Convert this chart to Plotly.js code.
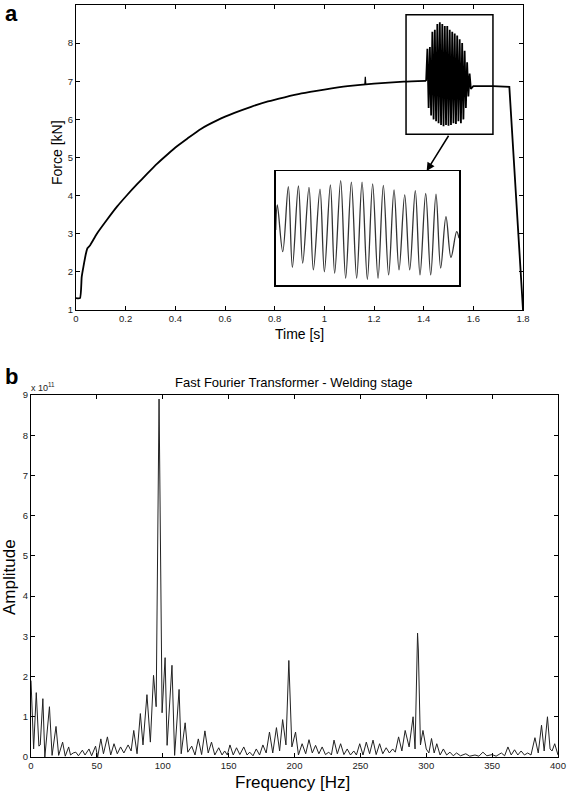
<!DOCTYPE html>
<html><head><meta charset="utf-8">
<script src="https://cdn.plot.ly/plotly-3.0.1.min.js"></script>
<style>html,body{margin:0;padding:0;background:#fff}#chart{width:567px;height:793px}</style>
</head><body><div id="chart"></div>
<script>
// ---- Panel a: force vs time ----
const riseTime  = [0, 0.016, 0.023, 0.03, 0.04, 0.046, 0.057, 0.084, 0.124, 0.165, 0.205, 0.246, 0.286, 0.327, 0.368, 0.408, 0.449, 0.503, 0.57, 0.638, 0.705, 0.773, 0.84, 0.908, 1.0, 1.094, 1.2, 1.32, 1.41];
const riseForce = [1.31, 1.31, 1.87, 2.14, 2.48, 2.62, 2.7, 3.0, 3.36, 3.71, 4.01, 4.3, 4.57, 4.84, 5.08, 5.3, 5.5, 5.75, 5.98, 6.17, 6.33, 6.47, 6.58, 6.68, 6.78, 6.87, 6.94, 6.99, 7.01];
const spikeTime  = [1.163, 1.165, 1.167];
const spikeForce = [6.91, 7.12, 6.91];
const burstTime  = [1.41, 1.415, 1.420, 1.425, 1.430, 1.435, 1.440, 1.445, 1.450, 1.455, 1.460, 1.465, 1.470, 1.475, 1.480, 1.485, 1.490, 1.495, 1.500, 1.505, 1.510, 1.515, 1.520, 1.525, 1.530, 1.535, 1.540, 1.545, 1.550, 1.555, 1.560, 1.565, 1.570, 1.575, 1.580, 1.585, 1.590];
const burstForce = [7.01, 7.85, 6.3, 7.9, 6.1, 8.3, 6.0, 8.35, 5.95, 8.5, 5.9, 8.55, 5.85, 8.5, 5.82, 8.45, 5.85, 8.45, 5.83, 8.35, 5.85, 8.3, 5.9, 8.25, 5.88, 8.2, 5.95, 8.1, 5.9, 8.0, 6.0, 7.8, 6.3, 7.5, 6.6, 7.2, 6.8];
const dropTime  = [1.6, 1.68, 1.745, 1.8];
const dropForce = [6.87, 6.87, 6.85, 1.0];

// ---- Inset: zoom of the welding oscillation ----
const insetTime  = [1.4200, 1.4216, 1.4269, 1.4324, 1.4364, 1.4423, 1.4465, 1.4527, 1.4570, 1.4635, 1.4678, 1.4737, 1.4779, 1.4838, 1.4887, 1.4943, 1.4995, 1.5048, 1.5100, 1.5152, 1.5205, 1.5257, 1.5309, 1.5362, 1.5411, 1.5467, 1.5516, 1.5571, 1.5617, 1.5673, 1.5722, 1.5774, 1.5820, 1.5872, 1.5921, 1.5977, 1.6000];
const insetForce = [7.05, 7.75, 6.44, 8.26, 6.00, 8.28, 6.12, 8.24, 5.93, 8.19, 5.88, 8.31, 5.84, 8.43, 5.70, 8.39, 5.70, 8.39, 5.67, 8.34, 5.70, 8.30, 5.79, 8.17, 5.93, 8.03, 5.93, 8.15, 5.79, 8.07, 5.79, 8.05, 5.98, 7.42, 6.28, 7.00, 6.82];

// ---- Panel b: FFT (amplitude in units of 1e11) ----
const fftFreq = [0, 1, 2, 4, 6, 7, 9, 10.5, 14, 16, 19, 21, 24, 26, 28.6, 30, 32, 34, 36, 39, 41, 44, 46, 49, 50.6, 53, 55, 58, 60.5, 63, 65.5, 68, 70.5, 73.7, 76, 78, 80.5, 83, 85, 88, 90.6, 93, 95, 97.2, 97.7, 99.5, 101.8, 103.3, 107, 109, 112.4, 114, 117, 119, 122, 124.5, 127, 129.5, 132, 134.5, 137, 139.5, 142.5, 145, 147, 149, 151, 153.5, 156, 158.5, 161.5, 164, 166, 168.5, 171, 173.5, 176, 178.5, 181, 183.5, 186.3, 188.7, 191, 193.5, 195.7, 196.2, 198, 200.8, 203, 205.8, 208.5, 211, 213.5, 216, 218.5, 221, 223.5, 226, 228, 230, 232.5, 235, 237.5, 240, 242.5, 245, 247, 249.5, 252, 254.5, 257, 259.6, 262, 264.6, 267, 269.6, 272, 274.5, 276.5, 279, 281.5, 284, 287, 290, 291.5, 293.4, 294, 295.6, 297.5, 300, 302, 304, 306, 308, 310.5, 313, 315.5, 318, 320.5, 323, 326, 330, 333, 337, 340, 343, 346, 350, 353, 357, 359.5, 362, 364.5, 367, 369.5, 372, 374.5, 377, 379.5, 382.5, 385, 387.5, 389.5, 392, 394, 395.5, 397.5, 400];
const fftAmp  = [1.9, 1.0, 0.2, 1.6, 0.27, 0.3, 1.45, 0.0, 1.25, 0.04, 0.76, 0.04, 0.37, 0.02, 0.25, 0.05, 0.1, 0.12, 0.03, 0.17, 0.05, 0.2, 0.03, 0.27, 0.0, 0.45, 0.08, 0.5, 0.05, 0.33, 0.08, 0.25, 0.1, 0.3, 0.15, 0.66, 0.08, 1.08, 0.3, 1.55, 0.37, 2.03, 1.25, 8.9, 7.39, 1.1, 2.47, 0.29, 2.28, 0.04, 1.68, 0.08, 0.85, 0.12, 0.27, 0.05, 0.45, 0.06, 0.65, 0.1, 0.37, 0.05, 0.23, 0.05, 0.15, 0.05, 0.3, 0.05, 0.23, 0.06, 0.25, 0.05, 0.12, 0.03, 0.2, 0.05, 0.3, 0.1, 0.62, 0.1, 0.73, 0.15, 0.93, 0.3, 2.4, 2.0, 0.25, 0.62, 0.05, 0.33, 0.08, 0.43, 0.1, 0.29, 0.08, 0.25, 0.06, 0.12, 0.05, 0.42, 0.08, 0.33, 0.06, 0.2, 0.05, 0.15, 0.05, 0.33, 0.05, 0.37, 0.08, 0.42, 0.06, 0.33, 0.08, 0.23, 0.1, 0.2, 0.12, 0.5, 0.15, 0.66, 0.25, 1.0, 0.2, 3.08, 2.66, 0.3, 0.66, 0.2, 0.1, 0.46, 0.1, 0.33, 0.05, 0.2, 0.05, 0.12, 0.03, 0.1, 0.03, 0.08, 0.02, 0.05, 0.02, 0.12, 0.03, 0.06, 0.02, 0.1, 0.03, 0.25, 0.05, 0.18, 0.05, 0.15, 0.05, 0.1, 0.05, 0.48, 0.1, 0.79, 0.15, 1.0, 0.2, 0.15, 0.33, 0.05];

const W = 567, H = 793;
const px = v => v / W;
const py = v => 1 - v / H;

const FONT = 'Liberation Sans, Arial, sans-serif';
const tickFont = {family: FONT, size: 9.5, color: '#222'};

const baseAxis = {
  showgrid: false, zeroline: false, showline: true, linecolor: '#000', linewidth: 1,
  mirror: 'ticks', ticks: 'inside', ticklen: 4, tickcolor: '#000', tickwidth: 1,
  tickfont: tickFont
};

const mainLine = {color: '#000', width: 1.8};
const traces = [
  {x: riseTime, y: riseForce, xaxis: 'x', yaxis: 'y', type: 'scatter', mode: 'lines',
   line: Object.assign({shape: 'spline', smoothing: 0.5}, mainLine), hoverinfo: 'skip'},
  {x: spikeTime, y: spikeForce, xaxis: 'x', yaxis: 'y', type: 'scatter', mode: 'lines',
   line: {color: '#000', width: 1.2}, hoverinfo: 'skip'},
  {x: burstTime.concat(dropTime), y: burstForce.concat(dropForce), xaxis: 'x', yaxis: 'y', type: 'scatter', mode: 'lines',
   line: mainLine, hoverinfo: 'skip'},
  {x: insetTime, y: insetForce, xaxis: 'x2', yaxis: 'y2', type: 'scatter', mode: 'lines',
   line: {color: '#333', width: 1.3, shape: 'spline', smoothing: 1}, hoverinfo: 'skip'},
  {x: fftFreq, y: fftAmp, xaxis: 'x3', yaxis: 'y3', type: 'scatter', mode: 'lines',
   line: {color: '#222', width: 1}, hoverinfo: 'skip'}
];

const layout = {
  width: W, height: H,
  margin: {l: 0, r: 0, t: 0, b: 0},
  paper_bgcolor: '#fff', plot_bgcolor: '#fff',
  showlegend: false,
  font: {family: FONT, color: '#000'},
  xaxis: Object.assign({}, baseAxis, {domain: [px(76), px(523)], anchor: 'y', range: [0, 1.8], dtick: 0.2, tick0: 0}),
  yaxis: Object.assign({}, baseAxis, {domain: [py(310), py(5)], anchor: 'x', range: [1, 9], dtick: 1, tick0: 1}),
  xaxis2: {domain: [px(275.7), px(459)], anchor: 'y2', range: [1.42, 1.60], showgrid: false, zeroline: false,
           showline: true, linecolor: '#000', linewidth: 1.5, mirror: true, ticks: '', showticklabels: false},
  yaxis2: {domain: [py(285.3), py(171)], anchor: 'x2', range: [5.5, 8.7], showgrid: false, zeroline: false,
           showline: true, linecolor: '#000', linewidth: 1.5, mirror: true, ticks: '', showticklabels: false},
  xaxis3: Object.assign({}, baseAxis, {domain: [px(31), px(558)], anchor: 'y3', range: [0, 400], dtick: 50, tick0: 0}),
  yaxis3: Object.assign({}, baseAxis, {domain: [py(757), py(395)], anchor: 'x3', range: [0, 9], dtick: 1, tick0: 0}),
  shapes: [
    {type: 'rect', xref: 'x', yref: 'y', x0: 1.329, x1: 1.679, y0: 5.61, y1: 8.745,
     line: {color: '#000', width: 1.5}, fillcolor: 'rgba(0,0,0,0)'}
  ],
  annotations: [
    {x: 1.412, y: 4.646, ax: 1.504, ay: 5.61, xref: 'x', yref: 'y', axref: 'x', ayref: 'y',
     showarrow: true, arrowhead: 2, arrowsize: 1.1, arrowwidth: 1.5, arrowcolor: '#000', text: '', standoff: 0},
    {text: '<b>a</b>', xref: 'paper', yref: 'paper', x: px(3), y: py(13), xanchor: 'left', yanchor: 'middle',
     showarrow: false, font: {family: FONT, size: 22, color: '#000'}},
    {text: '<b>b</b>', xref: 'paper', yref: 'paper', x: px(3), y: py(376), xanchor: 'left', yanchor: 'middle',
     showarrow: false, font: {family: FONT, size: 22, color: '#000'}},
    {text: 'Force [kN]', xref: 'paper', yref: 'paper', x: px(57), y: py(153), textangle: -90,
     xanchor: 'center', yanchor: 'middle', showarrow: false, font: {family: FONT, size: 14, color: '#000'}},
    {text: 'Time [s]', xref: 'paper', yref: 'paper', x: px(299), y: py(334),
     xanchor: 'center', yanchor: 'middle', showarrow: false, font: {family: FONT, size: 14, color: '#000'}},
    {text: 'Fast Fourier Transformer - Welding stage', xref: 'paper', yref: 'paper', x: px(293), y: py(382),
     xanchor: 'center', yanchor: 'middle', showarrow: false, font: {family: FONT, size: 13, color: '#000'}},
    {text: 'x 10<sup>11</sup>', xref: 'paper', yref: 'paper', x: px(29), y: py(387),
     xanchor: 'left', yanchor: 'middle', showarrow: false, font: {family: FONT, size: 9, color: '#222'}},
    {text: 'Frequency [Hz]', xref: 'paper', yref: 'paper', x: px(292), y: py(782),
     xanchor: 'center', yanchor: 'middle', showarrow: false, font: {family: FONT, size: 17, color: '#000'}},
    {text: 'Amplitude', xref: 'paper', yref: 'paper', x: px(9), y: py(577), textangle: -90,
     xanchor: 'center', yanchor: 'middle', showarrow: false, font: {family: FONT, size: 17, color: '#000'}}
  ]
};

Plotly.newPlot('chart', traces, layout, {displayModeBar: false, staticPlot: true});
</script>
</body></html>
